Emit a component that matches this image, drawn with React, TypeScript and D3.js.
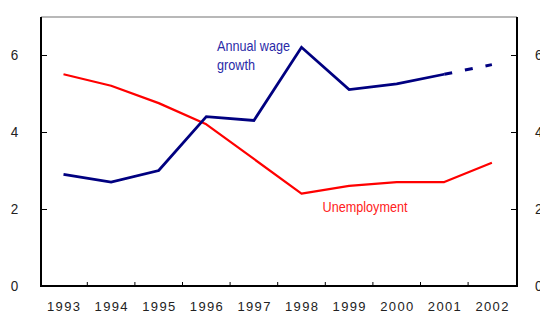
import React, { useEffect, useRef } from "react";
import * as d3 from "d3";

const years = ["1993", "1994", "1995", "1996", "1997", "1998", "1999", "2000", "2001", "2002"];
const wageGrowth = [2.9, 2.7, 3.0, 4.4, 4.3, 6.2, 5.1, 5.25, 5.5];
const wageForecast = [5.5, 5.75];
const unemployment = [5.5, 5.2, 4.75, 4.2, 3.3, 2.4, 2.6, 2.7, 2.7, 3.2];
const yTicks = [0, 2, 4, 6];

const FONT = "'Liberation Sans', Arial, sans-serif";

export default function App() {
  const ref = useRef<SVGSVGElement>(null);

  useEffect(() => {
    const svg = d3.select(ref.current);
    svg.selectAll("*").remove();
    const left = 41, right = 517, top = 17, bottom = 286;

    const x = d3.scaleBand<string>().domain(years).range([39.7, 515.7]);
    const cx = (yr: string) => (x(yr) as number) + x.bandwidth() / 2;
    const y = d3.scaleLinear().domain([0, 7]).range([bottom, 16.5]);

    // top border (grey)
    svg.append("line").attr("x1", left).attr("x2", right).attr("y1", top).attr("y2", top)
      .attr("stroke", "#a0a0a0").attr("stroke-width", 1.5);

    // left / right axis ticks
    const gl = svg.append("g").attr("transform", `translate(${left},0)`);
    gl.call(d3.axisRight(y).tickValues(yTicks).tickSize(6).tickFormat(() => ""));
    gl.select(".domain").remove();
    gl.selectAll(".tick line").attr("stroke", "#000").attr("stroke-width", 1);
    const gr = svg.append("g").attr("transform", `translate(${right},0)`);
    gr.call(d3.axisLeft(y).tickValues(yTicks).tickSize(6).tickFormat(() => ""));
    gr.select(".domain").remove();
    gr.selectAll(".tick line").attr("stroke", "#000").attr("stroke-width", 1);

    // y labels
    svg.append("g").selectAll("text").data(yTicks).join("text")
      .attr("x", 14.5).attr("y", (d) => y(d)).attr("dy", "0.36em")
      .attr("text-anchor", "middle").attr("font-family", FONT).attr("font-size", 15)
      .attr("textLength", 7.5).attr("lengthAdjust", "spacingAndGlyphs")
      .attr("fill", "#222").text((d) => String(d));
    svg.append("g").selectAll("text").data(yTicks).join("text")
      .attr("x", 535).attr("y", (d) => y(d)).attr("dy", "0.36em")
      .attr("text-anchor", "start").attr("font-family", FONT).attr("font-size", 15)
      .attr("textLength", 7.5).attr("lengthAdjust", "spacingAndGlyphs")
      .attr("fill", "#222").text((d) => String(d));

    // x axis ticks (between categories)
    const bounds = years.slice(1).map((yr) => x(yr) as number);
    svg.append("g").selectAll("line").data(bounds).join("line")
      .attr("x1", (d) => d).attr("x2", (d) => d).attr("y1", bottom).attr("y2", bottom - 4)
      .attr("stroke", "#000").attr("stroke-width", 1);

    // x labels
    svg.append("g").selectAll("text").data(years).join("text")
      .attr("x", (d) => cx(d) - 16.5).attr("y", 311)
      .attr("text-anchor", "start").attr("font-family", FONT).attr("font-size", 13)
      .attr("textLength", 33).attr("lengthAdjust", "spacing")
      .attr("fill", "#222").text((d) => d);

    // axis frame lines
    svg.append("line").attr("x1", left).attr("x2", left).attr("y1", top).attr("y2", bottom + 1)
      .attr("stroke", "#000").attr("stroke-width", 2);
    svg.append("line").attr("x1", right).attr("x2", right).attr("y1", top).attr("y2", bottom + 1)
      .attr("stroke", "#000").attr("stroke-width", 2);
    svg.append("line").attr("x1", left).attr("x2", right).attr("y1", bottom).attr("y2", bottom)
      .attr("stroke", "#000").attr("stroke-width", 2);

    const line = d3.line<[string, number]>().x((d) => cx(d[0])).y((d) => y(d[1]));

    svg.append("path")
      .attr("d", line(unemployment.map((v, i) => [years[i], v] as [string, number])))
      .attr("fill", "none").attr("stroke", "#ff0000").attr("stroke-width", 2.2)
      .attr("stroke-linejoin", "round");

    svg.append("path")
      .attr("d", line(wageGrowth.map((v, i) => [years[i], v] as [string, number])))
      .attr("fill", "none").attr("stroke", "#000080").attr("stroke-width", 2.8)
      .attr("stroke-linejoin", "miter");

    const off = wageGrowth.length - 1;
    svg.append("path")
      .attr("d", line(wageForecast.map((v, i) => [years[off + i], v] as [string, number])))
      .attr("fill", "none").attr("stroke", "#000080").attr("stroke-width", 3)
      .attr("stroke-dasharray", "8,13");

    // series labels
    const lab = svg.append("g").attr("font-family", FONT).attr("font-size", 15).attr("fill", "#2a2aa8");
    lab.append("text").attr("x", 217).attr("y", 51)
      .attr("textLength", 73).attr("lengthAdjust", "spacingAndGlyphs").text("Annual wage");
    lab.append("text").attr("x", 217).attr("y", 69.5)
      .attr("textLength", 38).attr("lengthAdjust", "spacingAndGlyphs").text("growth");
    svg.append("text").attr("x", 322.5).attr("y", 212).attr("font-family", FONT).attr("font-size", 14.5)
      .attr("textLength", 85).attr("lengthAdjust", "spacingAndGlyphs")
      .attr("fill", "#ff2020").text("Unemployment");
  }, []);

  return (
    <svg ref={ref} width={540} height={313}
      style={{ position: "absolute", left: 0, top: 0, background: "#fff" }} />
  );
}
